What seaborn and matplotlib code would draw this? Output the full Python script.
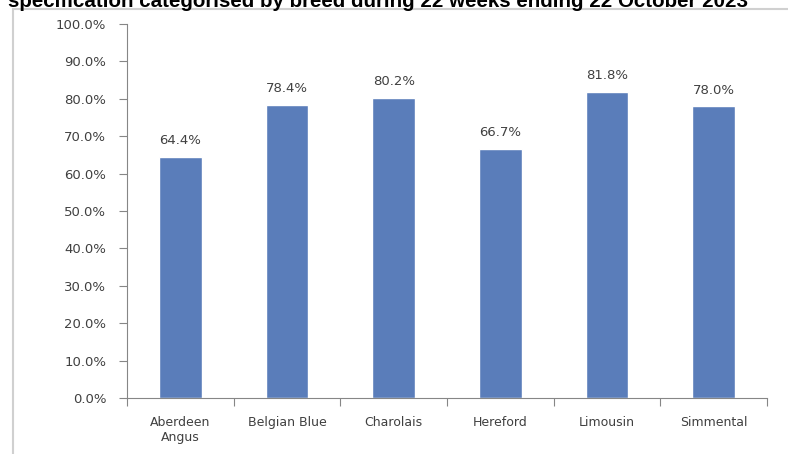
import numpy as np
import pandas as pd
import matplotlib.pyplot as plt
from matplotlib.patches import Rectangle
from matplotlib.ticker import FuncFormatter, FixedLocator
import seaborn as sns

breeds = ['Aberdeen\nAngus', 'Belgian Blue', 'Charolais', 'Hereford', 'Limousin', 'Simmental']
share = [0.644, 0.784, 0.802, 0.667, 0.818, 0.780]
title = 'specification categorised by breed during 22 weeks ending 22 October 2023'

df = pd.DataFrame({'breed': breeds, 'share': share})

sns.set_style('white')
plt.rcParams['font.family'] = ['DejaVu Sans']

text_col = '#404040'
axis_col = '#868686'
bar_col = '#5a7dba'

fig = plt.figure(figsize=(7.88, 4.54), dpi=100)
ax = fig.add_axes([0.1612, 0.1233, 0.8122, 0.8238])

sns.barplot(data=df, x='breed', y='share', color=bar_col, width=0.4,
            saturation=1, ax=ax)

# data labels
for p, v in zip(ax.patches, share):
    ax.annotate(f'{v:.1%}', (p.get_x() + p.get_width() / 2, p.get_height()),
                xytext=(0, 7), textcoords='offset points', ha='center', va='bottom',
                fontsize=9.5, color=text_col)

ax.set_ylim(0, 1)
ax.set_xlim(-0.5, len(breeds) - 0.5)
ax.set_yticks(np.arange(0, 1.01, 0.1))
ax.yaxis.set_major_formatter(FuncFormatter(lambda v, _: f'{v:.1%}'))
ax.xaxis.set_minor_locator(FixedLocator(np.arange(-0.5, len(breeds), 1)))
ax.tick_params(axis='y', which='major', direction='out', length=6, width=0.8,
               color=axis_col, labelsize=9.5, labelcolor=text_col, pad=9, left=True)
ax.tick_params(axis='x', which='major', length=0, labelsize=9,
               labelcolor=text_col, pad=13)
ax.tick_params(axis='x', which='minor', direction='out', length=6, width=0.8,
               color=axis_col, bottom=True)
ax.set_xlabel('')
ax.set_ylabel('')

for s in ['top', 'right']:
    ax.spines[s].set_visible(False)
for s in ['left', 'bottom']:
    ax.spines[s].set_color(axis_col)
    ax.spines[s].set_linewidth(0.8)

# chart frame (Excel border)
fig.patches.append(Rectangle((13 / 788, -0.1), 1.0, 1 - 9 / 454 + 0.1,
                             transform=fig.transFigure, fill=False,
                             edgecolor='#d0d0d0', linewidth=1.5))

# title, cropped at the top as in the source screenshot
fig.text(8 / 788, 1 - 7 / 454, title, ha='left', va='baseline',
         fontsize=14.8, fontweight='bold', color='black',
         family=['Liberation Sans', 'DejaVu Sans'])

fig.savefig('out.png', dpi=100, facecolor='white')
